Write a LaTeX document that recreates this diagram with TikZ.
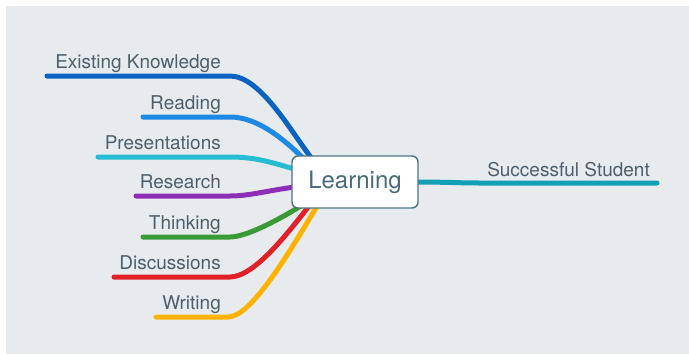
\documentclass[tikz,border=0pt]{standalone}
\usepackage{fontspec}
\setmainfont{TeX Gyre Heros}
\usetikzlibrary{calc}
\pgfdeclarelayer{bg}
\pgfsetlayers{bg,main}
\definecolor{bggray}{HTML}{E8EBEE}
\definecolor{labelc}{HTML}{4E5F6A}
\definecolor{boxc}{HTML}{4D7384}
\definecolor{learnc}{HTML}{4A6B7A}
\definecolor{cEK}{HTML}{0B63C1}
\definecolor{cRd}{HTML}{1E88E5}
\definecolor{cPr}{HTML}{26BCD4}
\definecolor{cRs}{HTML}{8E2DB5}
\definecolor{cTh}{HTML}{3A9A35}
\definecolor{cDi}{HTML}{E02228}
\definecolor{cWr}{HTML}{FFB300}
\definecolor{cSS}{HTML}{13A0B5}
\begin{document}
\begin{tikzpicture}[x=1pt,y=-1pt,
  lbl/.style={text=labelc,font=\fontsize{19}{21}\selectfont,inner sep=0pt},
  branch/.style={line width=5pt,line cap=round,line join=round},
  centerbox/.style={draw=boxc,line width=1.4pt,fill=white,rounded corners=6pt,
    minimum width=126pt,minimum height=52pt,inner sep=0pt,text=learnc,
    font=\fontsize{24}{26}\selectfont}]
\useasboundingbox (0,0) rectangle (689,354);
\begin{pgfonlayer}{bg}
\fill[white] (0,0) rectangle (689,354);
\fill[bggray] (6,6) rectangle (689,354);
\end{pgfonlayer}

\node[centerbox] (learn) at (355,182) {Learning};

\node[lbl,anchor=base east] (ek) at (221,68) {Existing Knowledge};
\node[lbl,anchor=base east] (rd) at (221,109) {Reading};
\node[lbl,anchor=base east] (pr) at (221,149) {Presentations};
\node[lbl,anchor=base east] (rs) at (221,188) {Research};
\node[lbl,anchor=base east] (th) at (221,229) {Thinking};
\node[lbl,anchor=base east] (di) at (221,269) {Discussions};
\node[lbl,anchor=base east] (wr) at (221,309) {Writing};
\node[lbl,anchor=base east] (ss) at (650,176) {Successful Student};

\coordinate (ekL) at (47,76);
\coordinate (rdL) at (143,117);
\coordinate (prL) at (98,157);
\coordinate (rsL) at (136,196);
\coordinate (thL) at (143,237);
\coordinate (diL) at (114,277);
\coordinate (wrL) at (156,317);
\coordinate (ssR) at (657,183);

\begin{pgfonlayer}{bg}
\draw[branch,cEK] (ekL) -- (230,76) .. controls (260,76) and (290,130) .. ($(learn.north west)+(21,4)$);
\draw[branch,cRd] (rdL) -- (230,117) .. controls (255,117) and (280,135) .. ($(learn.north west)+(14,5)$);
\draw[branch,cPr] (prL) -- (230,157) .. controls (255,157) and (270,162) .. ($(learn.north west)+(4,14)$);
\draw[branch,cRs] (rsL) -- (230,196) .. controls (250,196) and (270,190) .. ($(learn.west)+(4,5)$);
\draw[branch,cTh] (thL) -- (230,237) .. controls (245,237) and (275,222) .. ($(learn.south west)+(10,-3)$);
\draw[branch,cDi] (diL) -- (230,277) .. controls (255,277) and (290,230) .. ($(learn.south west)+(18,-3)$);
\draw[branch,cWr] (wrL) -- (228,317) .. controls (250,317) and (285,260) .. ($(learn.south west)+(26,-3)$);
\draw[branch,cSS] ($(learn.east)+(-3,0)$) .. controls (445,182) and (460,183) .. (480,183) -- (ssR);
\end{pgfonlayer}
\end{tikzpicture}
\end{document}
